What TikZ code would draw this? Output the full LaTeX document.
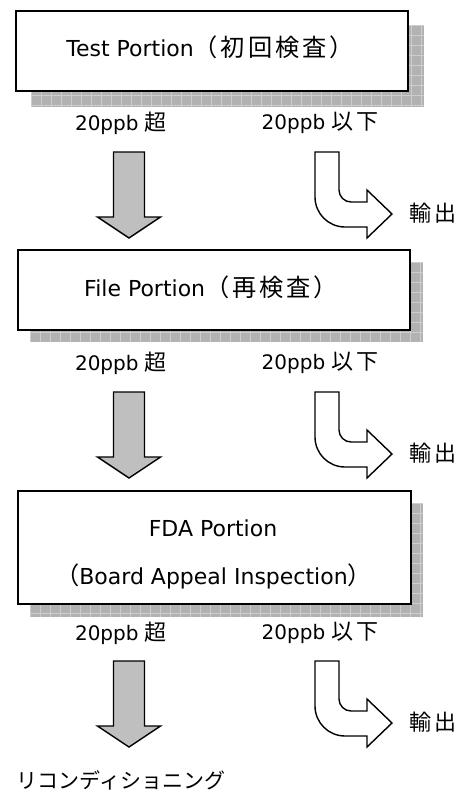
\documentclass[tikz,border=0pt]{standalone}
\usepackage{fontspec}
\setmainfont{DejaVu Sans}
\newfontfamily\cjk[Scale=1.1,LetterSpace=12]{Noto Sans CJK JP}
\newfontfamily\cjkp[Scale=1.1]{Noto Sans CJK JP}
\newfontfamily\cjkr{Noto Sans CJK JP}
\begin{document}
\begin{tikzpicture}[x=1pt,y=-1pt,
  boxnode/.style={draw=black,line width=1.8pt,fill=white,rectangle,anchor=north west,inner sep=0pt},
  boxtxt/.style={font=\fontsize{22}{24}\selectfont,inner sep=0pt},
  lbl/.style={font=\fontsize{20}{22}\selectfont,inner sep=0pt},
  grayarrow/.style={draw=black,line width=1.4pt,fill=gray!50,line join=miter},
  uarrow/.style={draw=black,line width=1.4pt,fill=white,line join=miter}]
\useasboundingbox (0,0) rectangle (466,796);
\definecolor{shadefill}{RGB}{178,178,178}
\definecolor{shadeline}{RGB}{205,205,205}
\tikzset{shadowpic/.pic={
  \fill[shadefill] (0,0) rectangle (393,\shh);
  \foreach \i in {0,10,...,390} {\draw[shadeline,line width=0.7pt] (\i,0) -- (\i,\shh);}
  \foreach \j in {0,10,...,130} {\pgfmathparse{\j<\shh?1:0}\ifnum\pgfmathresult=1 \draw[shadeline,line width=0.7pt] (0,\j) -- (393,\j);\fi}
}}
% section 1
\def\shh{82}
\pic at (31,25) {shadowpic};
\node[boxnode,minimum width=392pt,minimum height=80pt] (b1) at (15,10) {};
\node[boxtxt] (t1) at (210,47) {Test Portion{\cjk （初回検査）}};
% section 2
\def\shh{80}
\pic at (30,262) {shadowpic};
\node[boxnode,minimum width=392pt,minimum height=80pt] (b2) at (17,249) {};
\node[boxtxt] (t2) at (211,287) {File Portion{\cjk （再検査）}};
% section 3
\def\shh{114}
\pic at (30,503) {shadowpic};
\node[boxnode,minimum width=393pt,minimum height=113pt] (b3) at (17,490) {};
\node[boxtxt] (t3a) at (213,528) {FDA Portion};
\node[boxtxt] (t3b) at (213.5,576) {{\cjkp （}Board Appeal Inspection{\cjkp ）}};
% labels
\foreach \y/\n in {123/1,363/2,633/3} {
  \node[lbl] (over\n) at (121,\y) {20ppb {\cjk 超}};
  \node[lbl] (under\n) at (320,\y) {20ppb {\cjk 以下}};
}
% gray arrows
\foreach \y/\n in {152/1,392/2,661/3} {
  \coordinate (g\n) at (129,\y);
  \draw[grayarrow] (g\n) ++(-15.5,0) -- ++(31,0) -- ++(0,65) -- ++(16,0) -- ++(-31.5,21) -- ++(-31.5,-21) -- ++(16,0) -- cycle;
}
% U-turn arrows
\foreach \y/\n in {152/1,392/2,661/3} {
  \coordinate (u\n) at (315,\y);
  \draw[uarrow] (u\n) -- ++(24,0) -- ++(0,38)
     .. controls +(0,6.6) and +(-6.6,0) .. ++(12,12) -- ++(16,0) -- ++(0,-12)
     -- ++(25,24) -- ++(-25,24) -- ++(0,-11) -- ++(-22,0)
     .. controls +(-16.6,0) and +(0,16.6) .. ++(-30,-30) -- cycle;
  \node[lbl] (exp\n) at (433,\y+61) {\cjk 輸出};
}
\node[lbl,font=\fontsize{21}{23}\selectfont] (recon) at (121,780) {\cjkr リコンディショニング};
\end{tikzpicture}
\end{document}
